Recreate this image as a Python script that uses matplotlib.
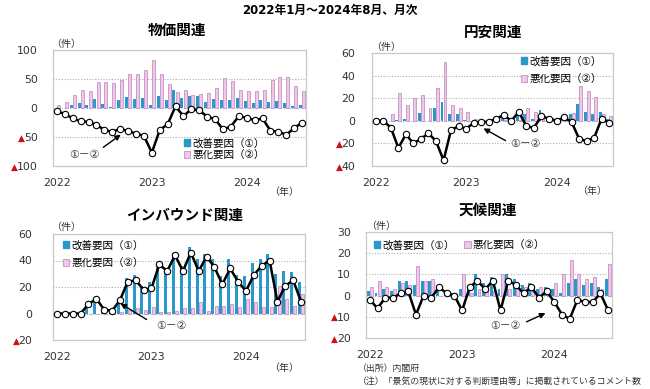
import numpy as np
import matplotlib
matplotlib.use('Agg')
import matplotlib.pyplot as plt
from matplotlib.patches import Rectangle

plt.rcParams['font.family'] = ['DejaVu Sans', 'Noto Sans CJK JP']

W, H = 650, 389
BLUE = '#2a98c8'
PINK = '#eec8ea'
PINK_EDGE = '#c890c4'

months = np.arange(32)  # 2022-01 .. 2024-08
year_ticks = [0, 12, 24]
year_labels = ['2022', '2023', '2024']

# 物価関連
price_up = [0, 0, 5, 8, 6, 15, 7, 2, 13, 19, 15, 17, 5, 20, 14, 31,
            17, 20, 21, 11, 16, 14, 14, 17, 12, 8, 13, 10, 12, 8, 3, 5]
price_down = [6, 10, 23, 31, 30, 44, 45, 43, 49, 59, 59, 65, 82, 58, 42, 28,
              31, 22, 25, 26, 35, 51, 46, 31, 29, 29, 31, 49, 53, 54, 38, 30]
# 円安関連
yen_up = [0, 0, 0, 1, 2, 0, 7, 0, 11, 17, 6, 6, 1, 0, 0, 1,
          3, 6, 2, 9, 6, 2, 10, 3, 2, 4, 6, 15, 8, 6, 8, 2]
yen_down = [0, 0, 6, 25, 14, 20, 23, 11, 29, 52, 14, 11, 8, 2, 1, 2,
            1, 1, 2, 1, 11, 8, 6, 1, 2, 1, 7, 31, 26, 21, 6, 4]
# インバウンド関連
inb_up = [0, 0, 0, 0, 7, 11, 3, 2, 11, 27, 29, 21, 24, 38, 33, 46,
          36, 50, 41, 45, 41, 28, 41, 29, 28, 38, 41, 45, 30, 32, 31, 24]
inb_down = [0, 0, 0, 0, 0, 0, 0, 0, 1, 3, 4, 3, 5, 1, 1, 2,
            4, 4, 9, 2, 6, 6, 7, 5, 11, 9, 5, 5, 21, 11, 6, 15]
# 天候関連
wx_up = [2, 1, 3, 2, 7, 7, 5, 7, 7, 4, 2, 1, 3, 5, 10, 6,
         9, 3, 10, 8, 5, 6, 3, 4, 3, 1, 6, 8, 5, 6, 4, 8]
wx_down = [4, 7, 4, 3, 6, 5, 14, 7, 8, 0, 1, 1, 10, 1, 3, 3,
           2, 10, 3, 3, 4, 2, 4, 2, 6, 10, 17, 10, 8, 9, 3, 15]


def fx(x):
    return x / W


def fy(y):
    return 1 - y / H


def panel(rect, up, down, ylim, yticks, ypad):
    ax = fig.add_axes(rect)
    up = np.array(up)
    down = np.array(down)
    ax.bar(months - 0.2, up, width=0.38, color=BLUE, zorder=2)
    ax.bar(months + 0.2, down, width=0.38, color=PINK, edgecolor=PINK_EDGE,
           linewidth=0.6, zorder=2)
    ax.plot(months, up - down, color='black', lw=1.8, marker='o', ms=4.6,
            mfc='white', mec='black', mew=0.8, zorder=3)
    ax.set_xlim(-0.5, 31.5)
    ax.set_ylim(*ylim)
    ax.set_yticks(yticks)
    ax.set_yticklabels([str(abs(v)) for v in yticks])
    ax.set_xticks(year_ticks)
    ax.set_xticklabels(year_labels)
    ax.tick_params(length=0, labelsize=7.8, colors='#333333')
    ax.tick_params(axis='x', pad=9)
    ax.tick_params(axis='y', pad=ypad)
    for v in yticks:
        if ylim[0] < v < ylim[1]:
            ax.axhline(v, color='#b0b0b0', lw=0.8, ls=(0, (1, 1.5)), zorder=1)
    for s in ax.spines.values():
        s.set_color('#c8c8c8')
        s.set_linewidth(0.9)
    return ax


def add_legend(ax, anchor, ncol=1, spacing=0.3):
    h = [Rectangle((0, 0), 1, 1, color=BLUE),
         Rectangle((0, 0), 1, 1, facecolor=PINK, edgecolor=PINK_EDGE, lw=0.6)]
    ax.legend(h, ['改善要因（①）', '悪化要因（②）'], loc='upper left',
              bbox_to_anchor=anchor, bbox_transform=fig.transFigure,
              frameon=False, fontsize=7.6, ncol=ncol, handlelength=0.6,
              handleheight=0.6, handletextpad=0.2, labelspacing=spacing,
              columnspacing=0.9, borderpad=0, borderaxespad=0)


def diff_label(txt_xy, tail, head):
    fig.text(fx(txt_xy[0]), fy(txt_xy[1]), '①－②', ha='center', va='center',
             fontsize=7.8, color='#333333')
    fig.add_artist(plt.Annotation('', xy=(fx(head[0]), fy(head[1])),
                                  xytext=(fx(tail[0]), fy(tail[1])),
                                  xycoords='figure fraction',
                                  textcoords='figure fraction',
                                  arrowprops=dict(arrowstyle='-|>', color='black',
                                                  lw=1.0, mutation_scale=8)))


fig = plt.figure(figsize=(6.5, 3.89), dpi=100)

fig.text(0.508, fy(10), '2022年1月～2024年8月、月次', ha='center', va='center',
         fontsize=8.5, fontweight='bold')

ax1 = panel([fx(53), fy(166), fx(306) - fx(53), fy(50) - fy(166)],
            price_up, price_down, (-100, 100), [100, 50, 0, -50, -100], 11)
ax2 = panel([fx(372), fy(166), fx(613) - fx(372), fy(53) - fy(166)],
            yen_up, yen_down, (-40, 60), [60, 40, 20, 0, -20, -40], 12)
ax3 = panel([fx(53), fy(340), fx(305) - fx(53), fy(234) - fy(340)],
            inb_up, inb_down, (-20, 60), [60, 40, 20, 0, -20], 15)
ax4 = panel([fx(366), fy(338), fx(612) - fx(366), fy(232) - fy(338)],
            wx_up, wx_down, (-20, 30), [30, 20, 10, 0, -10, -20], 11)

titles = [('物価関連', 177, 30), ('円安関連', 493, 32),
          ('インバウンド関連', 185, 215), ('天候関連', 488, 210)]
for t, x, y in titles:
    fig.text(fx(x), fy(y), t, ha='center', va='center', fontsize=10.5,
             fontweight='bold')

for x, y in [(66, 44), (386, 47), (66, 227), (381, 226)]:
    fig.text(fx(x), fy(y), '（件）', ha='center', va='center', fontsize=7.2,
             color='#333333')
for x, y in [(284, 192), (592, 191), (284, 368)]:
    fig.text(fx(x), fy(y), '（年）', ha='center', va='center', fontsize=7.2,
             color='#333333')

add_legend(ax1, (fx(184), fy(138)), spacing=0.15)
add_legend(ax2, (fx(521), fy(56)), spacing=0.7)
add_legend(ax3, (fx(63), fy(240)), spacing=0.7)
add_legend(ax4, (fx(374), fy(240)), ncol=2)

diff_label((84, 155), (101, 149), (123, 133))
diff_label((525, 144), (508, 142), (481, 127))
diff_label((171, 326), (149, 321), (118, 302))
diff_label((505, 326), (524, 323), (548, 312))

fig.text(fx(358), fy(368), '（出所）内閣府', ha='left', va='center', fontsize=6.4,
         color='#333333')
fig.text(fx(358), fy(381), '（注）「景気の現状に対する判断理由等」に掲載されているコメント数',
         ha='left', va='center', fontsize=6.4, color='#333333')

# red triangles in front of negative tick labels
fig.canvas.draw()
for ax in [ax1, ax2, ax3, ax4]:
    for v, lab in zip(ax.get_yticks(), ax.get_yticklabels()):
        if v < 0:
            bb = lab.get_window_extent()
            fig.text((bb.x0 - 5.5) / W, (bb.y0 + bb.y1) / 2 / H, '▲', ha='left',
                     va='center', fontsize=6.5, color='#d01010',
                     family='DejaVu Sans')

fig.savefig('out.png', dpi=100)
